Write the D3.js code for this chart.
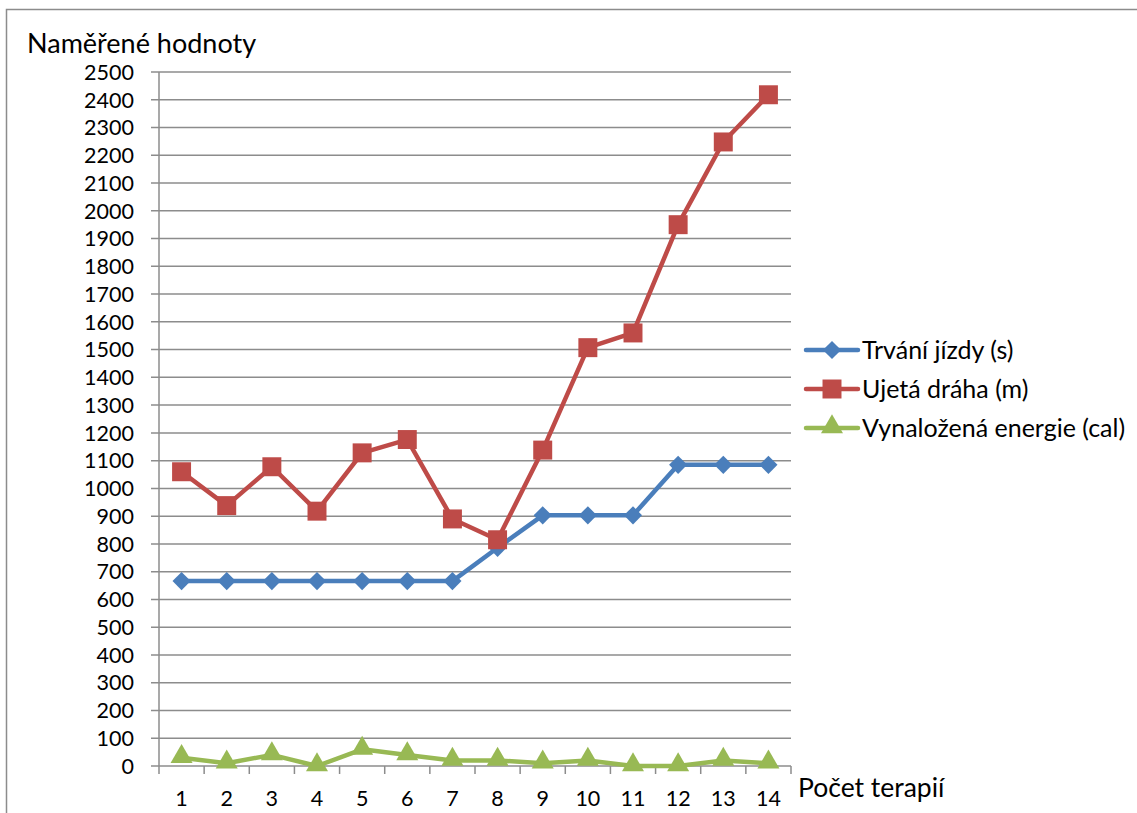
<!DOCTYPE html>
<html>
<head>
<meta charset="utf-8">
<script src="https://cdnjs.cloudflare.com/ajax/libs/d3/7.8.5/d3.min.js"></script>
<style>
  body { margin: 0; background: #fff; }
  svg text { font-family: Lato, "Open Sans", sans-serif; fill: #000; }
</style>
</head>
<body>
<svg id="chart" width="1137" height="813"></svg>
<script>
const categories = ['1','2','3','4','5','6','7','8','9','10','11','12','13','14']
const trvani = [666, 666, 666, 666, 666, 666, 666, 786, 903, 903, 903, 1085, 1085, 1085]
const draha = [1060, 938, 1078, 918, 1128, 1176, 890, 815, 1138, 1507, 1560, 1950, 2248, 2418]
const energie = [30, 10, 40, 0, 60, 40, 20, 20, 10, 20, 0, 0, 20, 10]
const yTicks = d3.range(0, 2501, 100)

const series = [
  { name: 'Trvání jízdy (s)', values: trvani, color: '#4a7ebb', symbol: 'diamond' },
  { name: 'Ujetá dráha (m)', values: draha, color: '#be4b48', symbol: 'square' },
  { name: 'Vynaložená energie (cal)', values: energie, color: '#98b954', symbol: 'triangle' }
]

let svg = d3.select('#chart')
let plot = { left: 159, right: 791, top: 72, bottom: 766 }
let gridColor = '#8c8c8c'

// outer frame (top and left only visible)
svg.append('path')
  .attr('d', 'M6.5,813 V9.5 H1137')
  .attr('fill', 'none')
  .attr('stroke', gridColor)
  .attr('stroke-width', 1.5)

let xScale = d3.scaleBand()
  .domain(categories)
  .range([plot.left, plot.right])
let yScale = d3.scaleLinear()
  .domain([0, 2500])
  .range([plot.bottom, plot.top])

// gridlines
svg.append('g').selectAll('line')
  .data(yTicks)
  .enter()
  .append('line')
  .attr('x1', plot.left - 8)
  .attr('x2', plot.right)
  .attr('y1', d => yScale(d))
  .attr('y2', d => yScale(d))
  .attr('stroke', gridColor)
  .attr('stroke-width', 1.5)

// y labels
svg.append('g').selectAll('text')
  .data(yTicks)
  .enter()
  .append('text')
  .attr('x', 134)
  .attr('y', d => yScale(d))
  .attr('dy', '0.36em')
  .attr('text-anchor', 'end')
  .style('font-size', '21.5px')
  .text(d => d)

// y axis line
svg.append('line')
  .attr('x1', plot.left).attr('x2', plot.left)
  .attr('y1', plot.top).attr('y2', plot.bottom + 8)
  .attr('stroke', gridColor)
  .attr('stroke-width', 1.5)

// x axis ticks between categories
let bounds = categories.map(c => xScale(c)).concat([plot.right])
svg.append('g').selectAll('line')
  .data(bounds.slice(1))
  .enter()
  .append('line')
  .attr('x1', d => d).attr('x2', d => d)
  .attr('y1', plot.bottom).attr('y2', plot.bottom + 8)
  .attr('stroke', gridColor)
  .attr('stroke-width', 1.5)

// x labels
svg.append('g').selectAll('text')
  .data(categories)
  .enter()
  .append('text')
  .attr('x', d => xScale(d) + xScale.bandwidth() / 2)
  .attr('y', 806)
  .attr('text-anchor', 'middle')
  .style('font-size', '21.5px')
  .text(d => d)

// axis titles
svg.append('text')
  .attr('x', 27).attr('y', 53)
  .style('font-size', '27px')
  .text('Naměřené hodnoty')
svg.append('text')
  .attr('x', 798).attr('y', 797)
  .style('font-size', '26.5px')
  .text('Počet terapií')

let symbolFor = s => {
  if (s == 'diamond') return d3.symbol().type(d3.symbolDiamond2).size(210)()
  if (s == 'square') return d3.symbol().type(d3.symbolSquare).size(360)()
  return d3.symbol().type(d3.symbolTriangle).size(210)()
}
let cx = i => xScale(categories[i]) + xScale.bandwidth() / 2

let line = d3.line()
  .x((d, i) => cx(i))
  .y(d => yScale(d))

series.forEach(s => {
  let g = svg.append('g')
  g.append('path')
    .datum(s.values)
    .attr('d', line)
    .attr('fill', 'none')
    .attr('stroke', s.color)
    .attr('stroke-width', 4.5)
    .attr('stroke-linejoin', 'round')
  g.selectAll('path.m')
    .data(s.values)
    .enter()
    .append('path')
    .attr('class', 'm')
    .attr('d', symbolFor(s.symbol))
    .attr('transform', (d, i) => `translate(${cx(i)},${yScale(d) + (s.symbol == 'triangle' ? -1 : 0)})`)
    .attr('fill', s.color)
})

// legend
let legend = svg.append('g')
series.forEach((s, i) => {
  let y = 350 + i * 39
  legend.append('line')
    .attr('x1', 806).attr('x2', 858)
    .attr('y1', y).attr('y2', y)
    .attr('stroke', s.color)
    .attr('stroke-width', 4.5)
    .attr('stroke-linecap', 'round')
  legend.append('path')
    .attr('d', symbolFor(s.symbol))
    .attr('transform', `translate(832,${y + (s.symbol == 'triangle' ? -1 : 0)})`)
    .attr('fill', s.color)
  legend.append('text')
    .attr('x', 862).attr('y', y)
    .attr('dy', '0.36em')
    .style('font-size', '25px')
    .text(s.name)
})
</script>
</body>
</html>
